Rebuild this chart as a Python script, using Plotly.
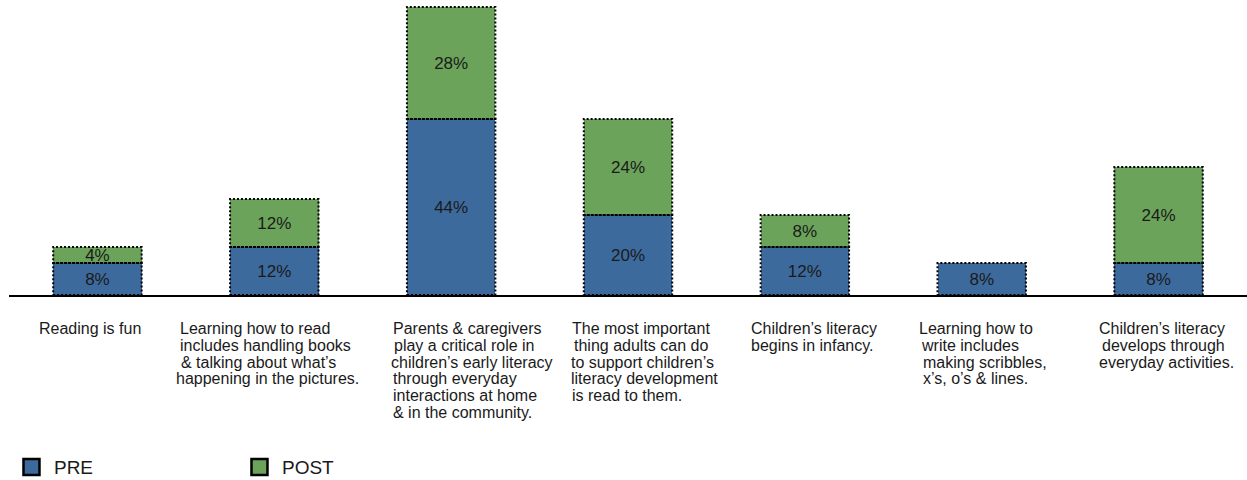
import plotly.graph_objects as go

# Survey statements (one per bar) and share of respondents, before and after
categories = [
    "Reading is fun",
    "Learning how to read\nincludes handling books\n& talking about what’s\nhappening in the pictures.",
    "Parents & caregivers\nplay a critical role in\nchildren’s early literacy\nthrough everyday\ninteractions at home\n& in the community.",
    "The most important\nthing adults can do\nto support children’s\nliteracy development\nis read to them.",
    "Children’s literacy\nbegins in infancy.",
    "Learning how to\nwrite includes\nmaking scribbles,\nx’s, o’s & lines.",
    "Children’s literacy\ndevelops through\neveryday activities.",
]
pre_values = [8, 12, 44, 20, 12, 8, 8]
post_values = [4, 12, 28, 24, 8, 0, 24]
series_names = ["PRE", "POST"]

# Styling
PRE_COLOR = "#3D6A9C"
POST_COLOR = "#6BA35A"
TEXT_COLOR = "#1a1a1a"
FONT = "Liberation Sans, Arial, Helvetica, sans-serif"
BAR_WIDTH = 0.5
LABEL_SIZE = 16
LINE_STEP = 16.8      # px between wrapped label lines
FIRST_LINE = 33.5     # px from the axis to the middle of the first label line
# horizontal start of each label line, px relative to the bar centre
label_line_shift = [
    [-60],
    [-96, -96, -95, -100],
    [-60, -59, -62, -60, -60, -60],
    [-58, -56, -59, -59, -58],
    [-56, -56],
    [-65, -63, -61, -61],
    [-62, -59, -62],
]

x = list(range(len(categories)))

fig = go.Figure()
for vals, name, color in [
    (pre_values, series_names[0], PRE_COLOR),
    (post_values, series_names[1], POST_COLOR),
]:
    fig.add_trace(go.Bar(
        x=x, y=vals, name=name, width=BAR_WIDTH,
        marker=dict(color=color, line=dict(width=0)),
        text=[f"{v}%" if v else "" for v in vals],
        textposition="inside", insidetextanchor="middle",
        constraintext="none", cliponaxis=False,
        textfont=dict(family=FONT, size=17, color=TEXT_COLOR),
        showlegend=False, hoverinfo="skip",
    ))
    # legend swatch
    fig.add_trace(go.Scatter(
        x=[None], y=[None], mode="markers", name=name,
        marker=dict(symbol="square", size=16, color=color,
                    line=dict(color="black", width=2.5)),
    ))

# dotted outlines around every stacked segment
for i in x:
    bottom = 0
    for v in (pre_values[i], post_values[i]):
        if v:
            fig.add_shape(type="rect", xref="x", yref="y",
                          x0=i - BAR_WIDTH / 2, x1=i + BAR_WIDTH / 2,
                          y0=bottom, y1=bottom + v,
                          line=dict(color="black", width=2, dash="2px,2px"))
        bottom += v

# statement labels under the bars, one annotation per wrapped line
for i, (cat, shifts) in enumerate(zip(categories, label_line_shift)):
    for k, (line, dx) in enumerate(zip(cat.split("\n"), shifts)):
        fig.add_annotation(
            x=i, y=0, xref="x", yref="paper",
            text=line, showarrow=False,
            xanchor="left", yanchor="middle", align="left",
            xshift=dx, yshift=-(FIRST_LINE + LINE_STEP * k),
            font=dict(family=FONT, size=LABEL_SIZE, color=TEXT_COLOR),
        )

fig.update_layout(
    width=1247, height=480,
    margin=dict(l=9, r=0, t=0, b=185),
    barmode="stack",
    plot_bgcolor="white", paper_bgcolor="white",
    xaxis=dict(range=[-0.5, len(categories) - 0.5], showticklabels=False,
               showgrid=False, zeroline=False, ticks="",
               showline=True, linecolor="black", linewidth=1.5),
    yaxis=dict(range=[0, 73.75], visible=False, showgrid=False, zeroline=False),
    legend=dict(orientation="h", x=0.0072, y=0.027, xref="container", yref="container",
                xanchor="left", yanchor="middle", traceorder="normal",
                itemwidth=35,
                entrywidth=178, entrywidthmode="pixels",
                font=dict(family=FONT, size=19, color=TEXT_COLOR)),
    font=dict(family=FONT),
)

fig.write_html("out.html")
